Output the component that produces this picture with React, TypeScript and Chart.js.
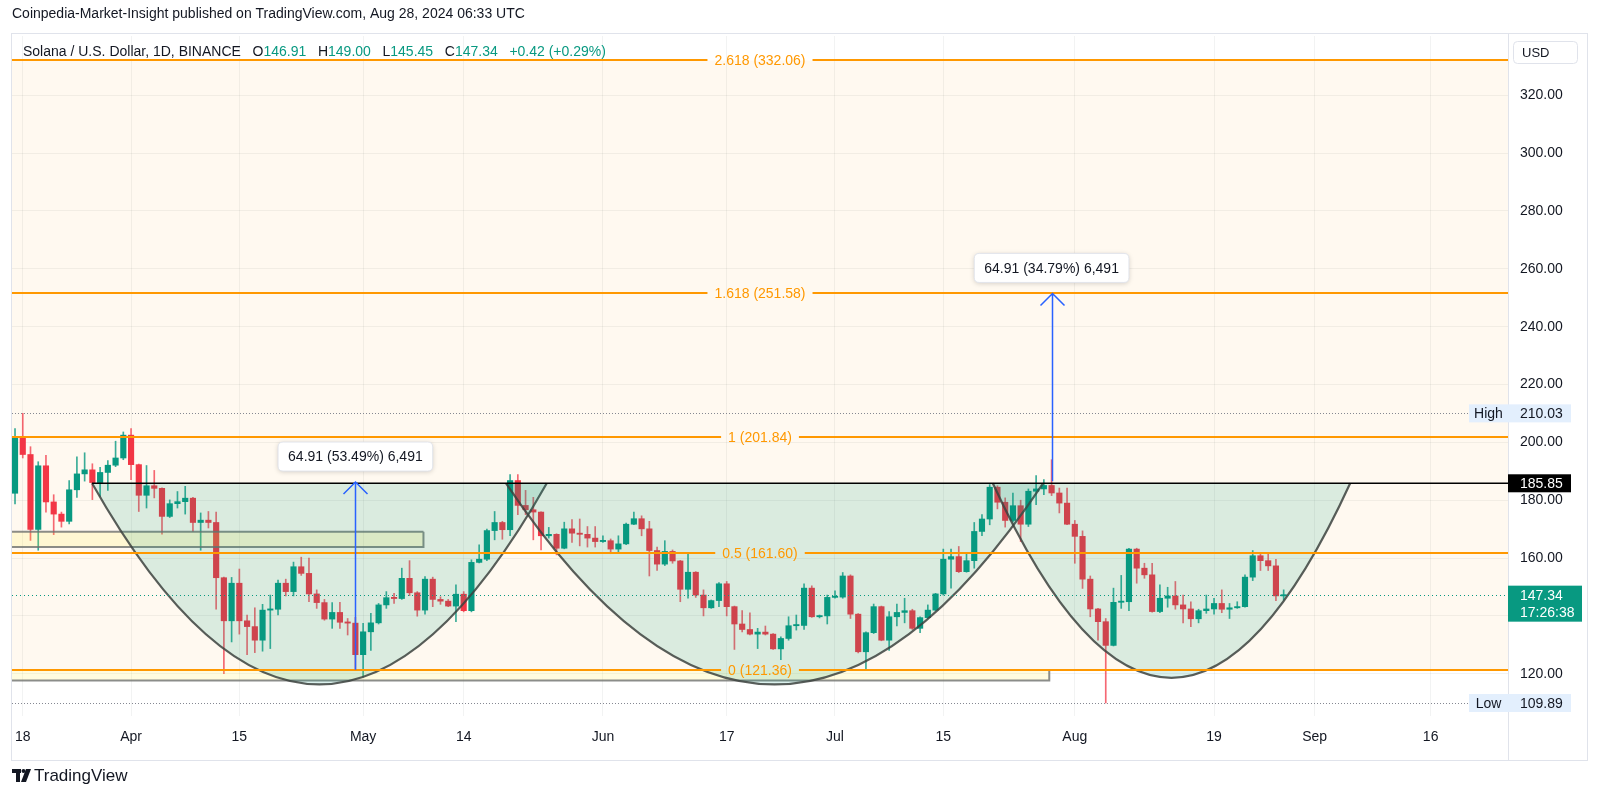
import React, { useEffect, useRef } from "react";
import { Chart, registerables } from "chart.js";

Chart.register(...registerables);

// ---- Data: SOL/USD daily candles, 2024-03-17 .. 2024-08-28 (index = days since Mar 17) ----
const opens = [182.4, 202.0, 195.8, 169.9, 191.9, 179.4, 175.2, 172.7, 183.6, 189.1, 190.5, 186.1, 189.6, 192.1, 194.6, 202.5, 192.3, 181.7, 185.0, 184.1, 174.4, 178.8, 179.5, 180.7, 172.3, 173.1, 172.3, 153.2, 138.3, 151.3, 138.3, 136.3, 131.6, 142.0, 142.3, 151.3, 148.4, 157.0, 154.7, 147.6, 144.6, 138.9, 141.2, 137.8, 137.5, 126.6, 134.5, 137.6, 143.8, 146.3, 146.0, 153.0, 148.0, 142.0, 152.7, 145.7, 145.1, 143.4, 147.5, 141.8, 158.5, 159.6, 169.5, 172.3, 169.8, 186.8, 178.2, 176.7, 175.9, 167.7, 168.2, 163.4, 170.1, 168.6, 168.2, 166.9, 165.7, 166.0, 163.1, 164.9, 171.7, 173.6, 170.1, 162.6, 157.9, 162.3, 159.0, 149.2, 155.1, 147.2, 142.8, 145.3, 151.1, 143.2, 137.2, 135.3, 133.7, 134.4, 133.7, 128.6, 132.2, 136.6, 136.7, 149.6, 139.7, 140.0, 146.4, 146.5, 153.8, 140.6, 127.6, 134.2, 143.2, 131.6, 139.7, 141.2, 141.8, 135.7, 139.4, 142.0, 147.6, 159.6, 160.5, 155.3, 159.1, 169.2, 173.5, 184.5, 179.3, 173.0, 178.1, 171.7, 183.1, 183.9, 185.1, 182.5, 179.0, 171.7, 167.5, 152.7, 142.4, 138.0, 129.8, 144.7, 144.9, 163.1, 156.5, 154.2, 141.5, 146.1, 146.9, 143.8, 142.4, 139.0, 141.8, 142.4, 144.3, 142.3, 142.8, 143.2, 153.4, 160.8, 159.1, 157.3, 146.91];
const highs = [204.8, 210.03, 198.5, 193.3, 195.5, 181.9, 175.9, 186.8, 195.0, 196.4, 192.6, 191.4, 193.7, 200.4, 203.6, 204.8, 192.5, 192.0, 190.3, 184.3, 180.1, 183.0, 184.8, 181.0, 175.6, 176.1, 175.9, 153.4, 153.3, 156.2, 140.3, 142.8, 144.0, 147.2, 152.4, 152.7, 158.6, 160.3, 160.0, 149.0, 145.7, 144.6, 144.7, 139.1, 139.5, 137.4, 140.9, 144.3, 148.4, 147.8, 156.5, 159.1, 148.4, 153.6, 153.4, 146.6, 145.7, 150.7, 148.4, 159.4, 164.6, 170.0, 176.1, 172.7, 188.9, 188.9, 183.4, 181.0, 176.0, 170.6, 168.4, 172.4, 173.3, 173.5, 170.9, 170.9, 167.7, 166.6, 167.7, 172.1, 175.9, 174.6, 172.7, 163.8, 166.0, 162.8, 159.2, 161.7, 155.3, 149.0, 145.5, 151.5, 151.9, 143.4, 141.8, 141.1, 135.7, 136.5, 133.9, 132.8, 139.7, 140.3, 151.1, 150.4, 140.3, 147.2, 148.7, 155.0, 154.2, 140.8, 134.5, 144.1, 143.4, 141.5, 144.1, 146.1, 142.3, 139.7, 143.8, 147.8, 163.1, 163.1, 164.0, 161.5, 172.3, 175.0, 185.4, 185.0, 180.8, 182.5, 180.0, 183.9, 188.5, 187.1, 194.0, 184.2, 184.2, 173.0, 169.4, 153.8, 142.6, 139.1, 149.6, 154.0, 163.4, 163.4, 158.2, 158.2, 150.7, 149.9, 151.9, 147.2, 144.9, 142.3, 147.2, 146.1, 149.0, 144.3, 144.9, 154.2, 162.6, 161.9, 161.7, 159.6, 149.0];
const lows = [178.7, 194.6, 166.1, 162.7, 175.9, 168.1, 170.7, 171.8, 181.0, 186.6, 180.2, 181.3, 183.4, 191.6, 194.0, 187.1, 176.1, 177.3, 180.8, 168.3, 174.0, 177.3, 175.2, 169.2, 162.7, 170.4, 142.3, 120.0, 131.0, 133.7, 126.6, 127.3, 127.8, 128.7, 140.3, 146.9, 146.9, 154.0, 144.9, 142.6, 138.5, 135.7, 135.7, 133.4, 121.36, 118.9, 128.1, 137.2, 142.6, 144.3, 145.7, 147.0, 139.9, 140.6, 143.2, 144.0, 143.2, 138.0, 141.4, 141.4, 158.3, 159.1, 166.3, 166.5, 167.7, 175.0, 175.0, 166.3, 162.8, 166.9, 161.1, 163.2, 165.4, 164.2, 163.8, 163.8, 165.4, 161.5, 161.9, 164.6, 171.5, 167.7, 153.8, 155.7, 157.4, 158.2, 144.9, 146.1, 146.4, 140.0, 142.6, 143.2, 140.0, 128.4, 134.5, 133.4, 128.7, 133.4, 128.4, 124.9, 131.6, 135.1, 135.3, 139.5, 139.3, 137.2, 146.1, 146.1, 139.1, 127.2, 121.4, 133.9, 131.4, 128.1, 136.5, 137.6, 135.3, 134.2, 139.1, 141.8, 147.2, 149.6, 155.0, 155.1, 156.5, 167.7, 171.5, 177.0, 170.7, 172.5, 165.7, 170.9, 178.5, 181.9, 181.6, 175.6, 171.5, 158.2, 149.5, 139.7, 131.6, 109.89, 129.6, 142.6, 141.8, 151.3, 153.0, 141.3, 141.1, 143.0, 142.3, 137.6, 136.3, 137.6, 140.9, 140.6, 141.1, 139.1, 142.6, 143.0, 152.2, 155.7, 155.7, 145.3, 145.45];
const closes = [202.0, 195.8, 169.9, 191.9, 179.4, 175.2, 172.7, 183.6, 189.1, 190.5, 186.1, 189.6, 192.1, 194.6, 202.5, 192.3, 181.7, 185.0, 184.1, 174.4, 178.8, 179.5, 180.7, 172.3, 173.1, 172.3, 153.2, 138.3, 151.3, 138.3, 136.3, 131.6, 142.0, 142.3, 151.3, 148.4, 157.0, 154.7, 147.6, 144.6, 138.9, 141.2, 137.8, 137.5, 126.6, 134.5, 137.6, 143.8, 146.3, 146.0, 153.0, 148.0, 142.0, 152.7, 145.7, 145.1, 143.4, 147.5, 141.8, 158.5, 159.6, 169.5, 172.3, 169.8, 186.8, 178.2, 176.7, 175.9, 167.7, 168.2, 163.4, 170.1, 168.6, 168.2, 166.9, 165.7, 166.0, 163.1, 164.9, 171.7, 173.6, 170.1, 162.6, 157.9, 162.3, 159.0, 149.2, 155.1, 147.2, 142.8, 145.3, 151.1, 143.2, 137.2, 135.3, 133.7, 134.4, 133.7, 128.6, 132.2, 136.6, 136.7, 149.6, 139.7, 140.0, 146.4, 146.5, 153.8, 140.6, 127.6, 134.2, 143.2, 131.6, 139.7, 141.2, 141.8, 135.7, 139.4, 142.0, 147.6, 159.6, 160.5, 155.3, 159.1, 169.2, 173.5, 184.5, 179.3, 173.0, 178.1, 171.7, 183.1, 183.9, 185.1, 182.5, 179.0, 171.7, 167.5, 152.7, 142.4, 138.0, 129.8, 144.7, 144.9, 163.1, 156.5, 154.2, 141.5, 146.1, 146.9, 143.8, 142.4, 139.0, 141.8, 142.4, 144.3, 142.3, 142.8, 143.2, 153.4, 160.8, 159.1, 157.3, 146.92, 147.34];

// x axis (days since 2024-03-17)
const xTickDays = [1, 15, 29, 45, 58, 76, 92, 106, 120, 137, 155, 168, 183];
const xTickLabels = ["18", "Apr", "15", "May", "14", "Jun", "17", "Jul", "15", "Aug", "19", "Sep", "16"];
const xRange = [-0.39, 193.0];

// y axis
const yTickValues = [120, 140, 160, 180, 200, 220, 240, 260, 280, 300, 320];
const yRange = [105.39, 340.5];

// Fibonacci retracement levels
const fibRatios = ["0", "0.5", "1", "1.618", "2.618"];
const fibPrices = [121.36, 161.6, 201.84, 251.58, 332.06];

// Rounded-bottom arcs (start day, end day, rim price, bottom price)
const arcStartDay = [9.96, 63.48, 126.4];
const arcEndDay = [68.74, 132.9, 172.6];
const arcRimPrice = [185.85, 185.85, 185.85];
const arcBottomPrice = [116.3, 116.3, 118.6];

// Support boxes
const boxStartDay = [-5, -5];
const boxEndDay = [52.8, 133.7];
const boxTopPrice = [169.1, 121.3];
const boxBottomPrice = [163.8, 117.7];

// Neckline
const necklinePrice = 185.85;
const necklineStartDay = 9.96;

// Measured move arrows
const arrowDay = [44, 134];
const arrowFrom = [121.36, 186.58];
const arrowTo = [186.27, 251.49];
const arrowLabels = ["64.91 (53.49%) 6,491", "64.91 (34.79%) 6,491"];

// Marker values
const highValue = 210.03;
const lowValue = 109.89;
const lastPrice = 147.34;
const countdown = "17:26:38";

const UP = "#089981";
const DOWN = "#F23645";
const FONT = '"Liberation Sans", Arial, sans-serif';
const TEXT = "#131722";

const dayIdx = opens.map((_, i) => i);
const isUp = dayIdx.map((i) => closes[i] >= opens[i]);

function roundRect(ctx: CanvasRenderingContext2D, x: number, y: number, w: number, h: number, r: number) {
  ctx.beginPath();
  ctx.moveTo(x + r, y);
  ctx.lineTo(x + w - r, y);
  ctx.quadraticCurveTo(x + w, y, x + w, y + r);
  ctx.lineTo(x + w, y + h - r);
  ctx.quadraticCurveTo(x + w, y + h, x + w - r, y + h);
  ctx.lineTo(x + r, y + h);
  ctx.quadraticCurveTo(x, y + h, x, y + h - r);
  ctx.lineTo(x, y + r);
  ctx.quadraticCurveTo(x, y, x + r, y);
  ctx.closePath();
}

const drawingsPlugin = {
  id: "tvDrawings",
  beforeDraw(chart: any) {
    const { ctx, chartArea: a, scales } = chart;
    const Y = (v: number) => scales.y.getPixelForValue(v);
    ctx.save();
    ctx.fillStyle = "#ffffff";
    ctx.fillRect(0, 0, chart.width, chart.height);
    const yt = Y(fibPrices[fibPrices.length - 1]);
    const yb = Y(fibPrices[0]);
    ctx.fillStyle = "rgba(255,152,0,0.06)";
    ctx.fillRect(a.left, yt, a.right - a.left, yb - yt);
    ctx.restore();
  },
  afterDatasetsDraw(chart: any) {
    const { ctx, chartArea: a, scales } = chart;
    const X = (v: number) => scales.x.getPixelForValue(v);
    const Y = (v: number) => scales.y.getPixelForValue(v);
    ctx.save();
    ctx.beginPath();
    ctx.rect(a.left, a.top, a.right - a.left, a.bottom - a.top);
    ctx.clip();

    // boxes
    for (let i = 0; i < boxStartDay.length; i++) {
      const x0 = X(boxStartDay[i]);
      const x1 = X(boxEndDay[i]);
      const y0 = Y(boxTopPrice[i]);
      const y1 = Y(boxBottomPrice[i]);
      ctx.fillStyle = "rgba(255,235,59,0.16)";
      ctx.fillRect(x0, y0, x1 - x0, y1 - y0);
      ctx.strokeStyle = "rgba(110,112,110,0.8)";
      ctx.lineWidth = 2;
      ctx.beginPath();
      // top edge only when it is not hidden under a fib level line
      const onFib = fibPrices.some((p) => Math.abs(p - boxTopPrice[i]) < 0.5);
      if (!onFib) {
        ctx.moveTo(x0, y0);
        ctx.lineTo(x1, y0);
      }
      ctx.moveTo(x1, y0);
      ctx.lineTo(x1, y1);
      ctx.lineTo(x0, y1);
      ctx.lineTo(x0, y0);
      ctx.stroke();
    }

    // arcs
    for (let i = 0; i < arcStartDay.length; i++) {
      const x0 = X(arcStartDay[i]);
      const x1 = X(arcEndDay[i]);
      const yr = Y(arcRimPrice[i]);
      const yb = Y(arcBottomPrice[i]);
      const xc = (x0 + x1) / 2;
      const yc = yr + 2 * (yb - yr);
      ctx.beginPath();
      ctx.moveTo(x0, yr);
      ctx.quadraticCurveTo(xc, yc, x1, yr);
      ctx.closePath();
      ctx.fillStyle = "rgba(8,153,129,0.15)";
      ctx.fill();
      ctx.beginPath();
      ctx.moveTo(x0, yr);
      ctx.quadraticCurveTo(xc, yc, x1, yr);
      ctx.strokeStyle = "rgba(60,66,62,0.85)";
      ctx.lineWidth = 2.2;
      ctx.stroke();
    }

    // fib levels
    ctx.font = `14px ${FONT}`;
    ctx.textBaseline = "middle";
    ctx.textAlign = "center";
    const cx = (a.left + a.right) / 2;
    for (let i = 0; i < fibPrices.length; i++) {
      const y = Math.round(Y(fibPrices[i]));
      const label = `${fibRatios[i]} (${fibPrices[i].toFixed(2)})`;
      const tw = ctx.measureText(label).width;
      ctx.strokeStyle = "#FF9800";
      ctx.lineWidth = 2;
      ctx.beginPath();
      ctx.moveTo(a.left, y);
      ctx.lineTo(cx - tw / 2 - 7, y);
      ctx.moveTo(cx + tw / 2 + 7, y);
      ctx.lineTo(a.right, y);
      ctx.stroke();
      ctx.fillStyle = "#FF9800";
      ctx.fillText(label, cx, y + 1);
    }

    // neckline
    ctx.strokeStyle = "#000000";
    ctx.lineWidth = 1.5;
    ctx.beginPath();
    ctx.moveTo(X(necklineStartDay), Y(necklinePrice));
    ctx.lineTo(a.right, Y(necklinePrice));
    ctx.stroke();

    // dotted high / low / last lines
    ctx.lineWidth = 1;
    ctx.setLineDash([1, 2]);
    ctx.strokeStyle = "rgba(120,123,134,0.9)";
    for (const v of [highValue, lowValue]) {
      const y = Math.round(Y(v)) + 0.5;
      ctx.beginPath();
      ctx.moveTo(a.left, y);
      ctx.lineTo(a.right, y);
      ctx.stroke();
    }
    ctx.strokeStyle = UP;
    ctx.setLineDash([1, 3]);
    {
      const y = Math.round(Y(lastPrice)) + 0.5;
      ctx.beginPath();
      ctx.moveTo(a.left, y);
      ctx.lineTo(a.right, y);
      ctx.stroke();
    }
    ctx.setLineDash([]);

    // arrows
    for (let i = 0; i < arrowDay.length; i++) {
      const x = Math.round(X(arrowDay[i])) + 0.5;
      const y0 = Y(arrowFrom[i]);
      const y1 = Y(arrowTo[i]);
      ctx.strokeStyle = "#2962FF";
      ctx.lineWidth = 1.5;
      ctx.beginPath();
      ctx.moveTo(x, y0);
      ctx.lineTo(x, y1);
      ctx.moveTo(x - 12, y1 + 12);
      ctx.lineTo(x, y1);
      ctx.lineTo(x + 12, y1 + 12);
      ctx.stroke();
    }
    ctx.restore();

    // arrow labels
    ctx.save();
    ctx.font = `14px ${FONT}`;
    ctx.textBaseline = "middle";
    ctx.textAlign = "center";
    for (let i = 0; i < arrowDay.length; i++) {
      const x = X(arrowDay[i]);
      const y1 = Y(arrowTo[i]);
      const tw = ctx.measureText(arrowLabels[i]).width;
      const w = tw + 20;
      const h = 29;
      const bx = x - w / 2;
      const by = y1 - 11 - h;
      ctx.save();
      ctx.shadowColor = "rgba(0,0,0,0.18)";
      ctx.shadowBlur = 5;
      ctx.shadowOffsetY = 1;
      roundRect(ctx, bx, by, w, h, 5);
      ctx.fillStyle = "#ffffff";
      ctx.fill();
      ctx.restore();
      roundRect(ctx, bx, by, w, h, 5);
      ctx.strokeStyle = "rgba(224,227,235,0.9)";
      ctx.lineWidth = 1;
      ctx.stroke();
      ctx.fillStyle = TEXT;
      ctx.fillText(arrowLabels[i], x, by + h / 2 + 1);
    }
    ctx.restore();
  },
  afterDraw(chart: any) {
    const { ctx, chartArea: a, scales } = chart;
    const Y = (v: number) => scales.y.getPixelForValue(v);
    ctx.save();

    // frame
    ctx.strokeStyle = "#e0e3eb";
    ctx.lineWidth = 1;
    ctx.strokeRect(11.5, 33.5, 1576, 727);
    ctx.beginPath();
    ctx.moveTo(a.right + 0.5, 34);
    ctx.lineTo(a.right + 0.5, 760);
    ctx.stroke();

    // header
    ctx.textBaseline = "middle";
    ctx.textAlign = "left";
    ctx.font = `14px ${FONT}`;
    ctx.fillStyle = TEXT;
    ctx.fillText("Coinpedia-Market-Insight published on TradingView.com, Aug 28, 2024 06:33 UTC", 12, 14);

    // legend
    const segs: [string, string][] = [
      ["Solana / U.S. Dollar, 1D, BINANCE", TEXT],
      ["   O", TEXT], [opens[opens.length - 1].toFixed(2), UP],
      ["   H", TEXT], [highs[highs.length - 1].toFixed(2), UP],
      ["   L", TEXT], [lows[lows.length - 1].toFixed(2), UP],
      ["   C", TEXT], [closes[closes.length - 1].toFixed(2), UP],
      ["   ", TEXT], ["+0.42 (+0.29%)", UP],
    ];
    let lx = 23;
    for (const [t, c] of segs) {
      ctx.fillStyle = c;
      ctx.fillText(t, lx, 52);
      lx += ctx.measureText(t).width;
    }

    // USD box
    roundRect(ctx, 1513.5, 41.5, 64, 22, 4);
    ctx.fillStyle = "#ffffff";
    ctx.fill();
    ctx.strokeStyle = "#e0e3eb";
    ctx.stroke();
    ctx.fillStyle = TEXT;
    ctx.font = `13px ${FONT}`;
    ctx.fillText("USD", 1522, 53);

    ctx.font = `14px ${FONT}`;
    const axX = a.right;
    const tag = (v: number, bg: string, fg: string, text: string) => {
      const y = Y(v);
      ctx.fillStyle = bg;
      ctx.fillRect(axX, y - 9, 63, 18);
      ctx.fillStyle = fg;
      ctx.textAlign = "left";
      ctx.fillText(text, axX + 12, y + 1);
    };
    // High / Low
    for (const [v, name] of [[highValue, "High"], [lowValue, "Low"]] as [number, string][]) {
      const y = Y(v);
      ctx.fillStyle = "#e3effd";
      ctx.fillRect(axX - 39, y - 9, 39, 18);
      ctx.fillStyle = TEXT;
      ctx.textAlign = "center";
      ctx.fillText(name, axX - 19.5, y + 1);
      tag(v, "#e3effd", TEXT, v.toFixed(2));
    }
    tag(necklinePrice, "#000000", "#ffffff", necklinePrice.toFixed(2));

    // last price
    {
      const y = Y(lastPrice);
      ctx.fillStyle = UP;
      ctx.fillRect(axX, y - 9, 74, 36);
      ctx.fillStyle = "#ffffff";
      ctx.textAlign = "left";
      ctx.fillText(lastPrice.toFixed(2), axX + 12, y + 1);
      ctx.fillText(countdown, axX + 12, y + 18);
    }

    // footer logo
    ctx.fillStyle = TEXT;
    ctx.fillRect(12, 769, 9, 4);
    ctx.fillRect(16, 769, 4, 13);
    ctx.beginPath();
    ctx.arc(23.5, 771, 2, 0, Math.PI * 2);
    ctx.fill();
    ctx.beginPath();
    ctx.moveTo(26, 769);
    ctx.lineTo(31, 769);
    ctx.lineTo(26, 782);
    ctx.lineTo(21, 782);
    ctx.closePath();
    ctx.fill();
    ctx.font = `17px ${FONT}`;
    ctx.textAlign = "left";
    ctx.fillText("TradingView", 34, 776);
    ctx.restore();
  },
};

export default function App() {
  const ref = useRef<HTMLCanvasElement | null>(null);
  useEffect(() => {
    const canvas = ref.current;
    if (!canvas) return;
    const chart = new Chart(canvas, {
      type: "bar",
      data: {
        datasets: [
          {
            label: "body",
            data: dayIdx.map((i) => ({ x: i, y: [opens[i], closes[i]] })) as any,
            backgroundColor: dayIdx.map((i) => (isUp[i] ? UP : DOWN)),
            borderWidth: 0,
            barThickness: 5.5,
            minBarLength: 1.2,
            grouped: false,
            order: 0,
          },
          {
            label: "wick",
            data: dayIdx.map((i) => ({ x: i, y: [lows[i], highs[i]] })) as any,
            backgroundColor: dayIdx.map((i) => (isUp[i] ? "rgba(8,153,129,0.8)" : "rgba(242,54,69,0.75)")),
            borderWidth: 0,
            barThickness: 1,
            grouped: false,
            order: 1,
          },
        ],
      },
      options: {
        responsive: false,
        animation: false,
        devicePixelRatio: 1,
        layout: { padding: { left: 12, top: 36, right: 12, bottom: 36 } },
        plugins: { legend: { display: false }, tooltip: { enabled: false } },
        scales: {
          x: {
            type: "linear",
            position: "bottom",
            min: xRange[0],
            max: xRange[1],
            offset: false,
            afterBuildTicks: (s: any) => {
              s.ticks = xTickDays.map((v) => ({ value: v }));
            },
            afterFit: (s: any) => {
              s.height = 44;
            },
            ticks: {
              autoSkip: false,
              maxRotation: 0,
              padding: 13,
              color: TEXT,
              font: { family: FONT, size: 14 },
              callback: (v: any) => xTickLabels[xTickDays.indexOf(Number(v))],
            },
            grid: { color: "rgba(42,46,57,0.06)", drawTicks: false, offset: false },
            border: { display: false },
          },
          y: {
            type: "linear",
            position: "right",
            min: yRange[0],
            max: yRange[1],
            beginAtZero: false,
            afterBuildTicks: (s: any) => {
              s.ticks = yTickValues.map((v) => ({ value: v }));
            },
            afterFit: (s: any) => {
              s.width = 80;
            },
            ticks: {
              padding: 12,
              color: TEXT,
              font: { family: FONT, size: 14 },
              callback: (v: any) => (Math.abs(Number(v) - lastPrice) < 10 ? "" : Number(v).toFixed(2)),
            },
            grid: { color: "rgba(42,46,57,0.06)", drawTicks: false },
            border: { display: false },
          },
        },
      } as any,
      plugins: [drawingsPlugin],
    });
    return () => chart.destroy();
  }, []);
  return (
    <div style={{ position: "fixed", left: 0, top: 0, width: 1600, height: 796, background: "#fff" }}>
      <canvas ref={ref} width={1600} height={796} style={{ width: 1600, height: 796, display: "block" }} />
    </div>
  );
}
